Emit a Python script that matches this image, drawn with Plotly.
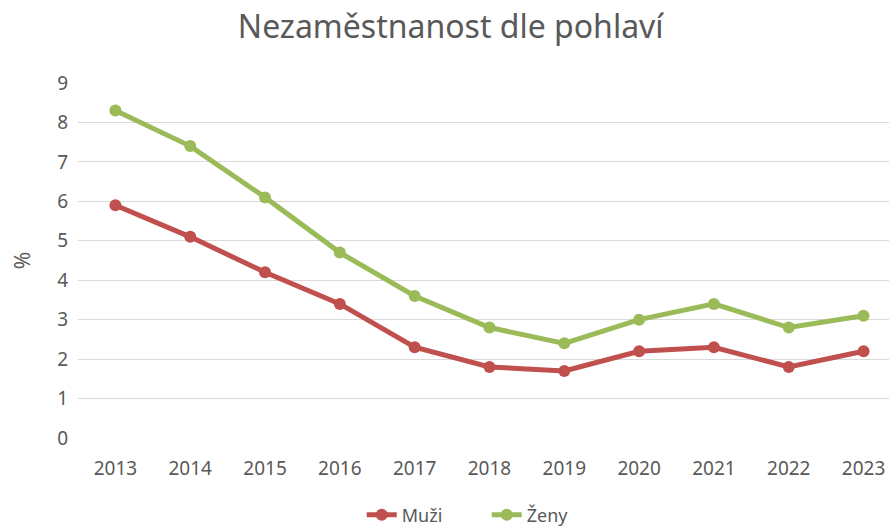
import plotly.graph_objects as go

years = ["2013", "2014", "2015", "2016", "2017", "2018", "2019", "2020", "2021", "2022", "2023"]
muzi = [5.9, 5.1, 4.2, 3.4, 2.3, 1.8, 1.7, 2.2, 2.3, 1.8, 2.2]
zeny = [8.3, 7.4, 6.1, 4.7, 3.6, 2.8, 2.4, 3.0, 3.4, 2.8, 3.1]

xs = list(range(len(years)))

fig = go.Figure()
fig.add_trace(go.Scatter(x=xs, y=muzi, name="Muži", mode="lines+markers",
                         line=dict(color="#C0504D", width=5), marker=dict(size=12)))
fig.add_trace(go.Scatter(x=xs, y=zeny, name="Ženy", mode="lines+markers",
                         line=dict(color="#9BBB59", width=5), marker=dict(size=12)))

fig.update_layout(
    width=889, height=531,
    margin=dict(l=78, r=0, t=83, b=93, autoexpand=False),
    paper_bgcolor="white", plot_bgcolor="white",
    font=dict(family="Noto Sans, Liberation Sans, sans-serif", color="#595959", size=19),
    title=dict(text="Nezaměstnanost dle pohlaví", x=0.507, xanchor="center", y=0.97,
               font=dict(size=32, color="#595959")),
    legend=dict(orientation="h", x=0.504, xanchor="center", yref="container", y=0.03,
                yanchor="middle", font=dict(size=18), traceorder="normal",
                entrywidth=80, entrywidthmode="pixels"),
)
fig.update_xaxes(tickvals=xs, ticktext=years, range=[-0.5, 10.34], automargin=False,
                 showgrid=False, showline=False, zeroline=False, ticks="", ticklabelstandoff=17)
fig.update_yaxes(range=[0, 9], dtick=1, showgrid=True, gridcolor="#D9D9D9", gridwidth=1,
                 zeroline=False, showline=False, ticks="", ticklabelstandoff=9, automargin=False,
                 title=dict(text="%", standoff=20, font=dict(size=21)))

fig.write_html("out.html", config={"displayModeBar": False},
               post_script="document.body.style.margin='0';")
